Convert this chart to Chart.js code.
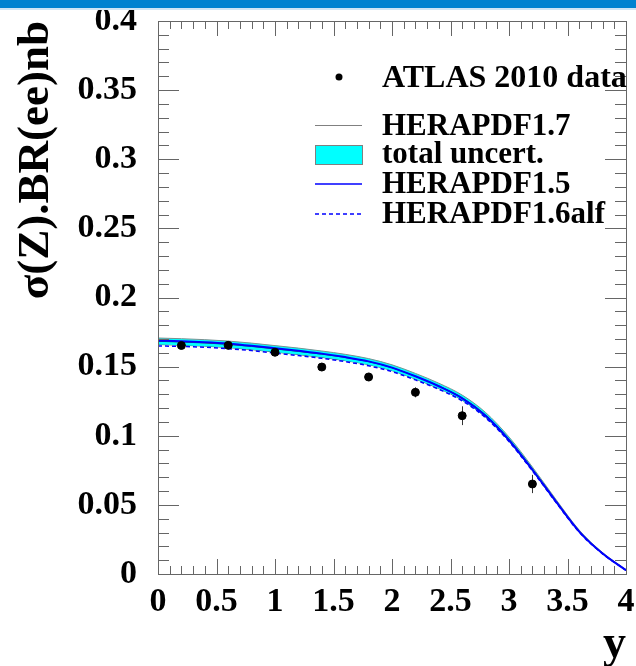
<!DOCTYPE html>
<html>
<head>
<meta charset="utf-8">
<script src="https://cdn.jsdelivr.net/npm/chart.js@4.4.0/dist/chart.umd.min.js"></script>
<style>
  html, body { margin: 0; padding: 0; background: #fff; }
  #wrap { position: relative; width: 636px; height: 666px; }
  .strip { position: absolute; left: 0; top: 0; width: 636px; height: 8px; background: #0082d0; border-bottom: 2px solid #cfe5f5; }
  canvas { position: absolute; left: 0; top: 0; }
</style>
</head>
<body>
<div id="wrap">
  <canvas id="zChart" width="636" height="666"></canvas>
  <div class="strip"></div>
</div>
<script>
// rapidity grid for the theory curves
const rapidity = [0, 0.2, 0.4, 0.6, 0.8, 1.0, 1.2, 1.4, 1.6, 1.8, 2.0, 2.2, 2.4, 2.6, 2.8, 3.0, 3.2, 3.4, 3.6, 3.8, 4.0];

// HERAPDF1.7 central value and total uncertainty band
const hera17 = [0.1683, 0.1678, 0.1671, 0.1661, 0.1646, 0.1628, 0.1610, 0.1590, 0.1566, 0.1536, 0.1492, 0.1430, 0.1360, 0.1275, 0.1150, 0.0975, 0.0760, 0.0530, 0.0310, 0.0150, 0.0028];
const hera17Up = [0.1707, 0.1702, 0.1695, 0.1685, 0.1670, 0.1652, 0.1634, 0.1613, 0.1589, 0.1558, 0.1513, 0.1451, 0.1380, 0.1294, 0.1168, 0.0991, 0.0774, 0.0541, 0.0318, 0.0155, 0.0032];
const hera17Down = [0.1660, 0.1655, 0.1648, 0.1638, 0.1623, 0.1605, 0.1587, 0.1567, 0.1543, 0.1514, 0.1471, 0.1410, 0.1341, 0.1257, 0.1133, 0.0960, 0.0747, 0.0520, 0.0303, 0.0146, 0.0026];

// other fits
const hera15 = [0.1688, 0.1683, 0.1676, 0.1666, 0.1651, 0.1633, 0.1614, 0.1594, 0.1569, 0.1538, 0.1493, 0.1430, 0.1358, 0.1271, 0.1145, 0.0969, 0.0754, 0.0526, 0.0307, 0.0148, 0.0027];
const hera16alf = [0.1650, 0.1646, 0.1640, 0.1630, 0.1616, 0.1598, 0.1580, 0.1560, 0.1536, 0.1506, 0.1464, 0.1404, 0.1336, 0.1253, 0.1130, 0.0958, 0.0746, 0.0520, 0.0303, 0.0146, 0.0027];

// ATLAS 2010 Z->ee measurement
const atlasY = [0.2, 0.6, 1.0, 1.4, 1.8, 2.2, 2.6, 3.2];
const atlasXsec = [0.1653, 0.1654, 0.1604, 0.1497, 0.1425, 0.1314, 0.1145, 0.0651];
const atlasErr = [0.0025, 0.0025, 0.0025, 0.0028, 0.0030, 0.0036, 0.0068, 0.0066];

const serif = 'Liberation Serif';

function curve(values) {
    return rapidity.map((y, i) => ({ x: y, y: values[i] }));
}

// 0.40 -> 0.4, 4.0 -> 4
function trimLabel(v) {
    return String(Number(v.toFixed(2)));
}

// ROOT style frame with inward ticks on all four sides
const rootFrame = {
    id: 'rootFrame',
    afterDraw(chart) {
        const { ctx, chartArea: a, scales: { x, y } } = chart;
        ctx.save();
        ctx.strokeStyle = '#666';
        ctx.lineWidth = 1;
        ctx.beginPath();
        for (let i = 0; i <= 40; i++) {
            const px = Math.round(x.getPixelForValue(i / 10)) + 0.5;
            const len = i % 5 === 0 ? 15 : 8;
            ctx.moveTo(px, a.bottom); ctx.lineTo(px, a.bottom - len);
            ctx.moveTo(px, a.top); ctx.lineTo(px, a.top + len);
        }
        for (let i = 0; i <= 40; i++) {
            const py = Math.round(y.getPixelForValue(i / 100)) + 0.5;
            const len = i % 5 === 0 ? 21 : 11;
            ctx.moveTo(a.left, py); ctx.lineTo(a.left + len, py);
            ctx.moveTo(a.right, py); ctx.lineTo(a.right - len, py);
        }
        ctx.stroke();
        ctx.strokeRect(Math.round(a.left) + 0.5, Math.round(a.top) + 0.5, Math.round(a.right - a.left), Math.round(a.bottom - a.top));
        ctx.restore();
    }
};

// vertical error bars for the data points (dataset 0)
const errorBars = {
    id: 'errorBars',
    beforeDatasetDraw(chart, args) {
        if (args.index !== 0) return;
        const { ctx, scales: { x, y } } = chart;
        ctx.save();
        ctx.strokeStyle = '#333';
        ctx.lineWidth = 1;
        ctx.beginPath();
        atlasY.forEach((v, i) => {
            const px = Math.round(x.getPixelForValue(v)) + 0.5;
            ctx.moveTo(px, y.getPixelForValue(atlasXsec[i] + atlasErr[i]));
            ctx.lineTo(px, y.getPixelForValue(atlasXsec[i] - atlasErr[i]));
        });
        ctx.stroke();
        ctx.restore();
    }
};

// legend without frame, drawn inside the plot
const legendBox = {
    id: 'legendBox',
    afterDraw(chart) {
        const ctx = chart.ctx;
        ctx.save();
        ctx.font = 'bold 31px ' + serif;
        ctx.fillStyle = '#000';
        ctx.textBaseline = 'alphabetic';
        ctx.textAlign = 'left';
        const tx = 382;

        ctx.beginPath();
        ctx.arc(339, 77, 3.5, 0, Math.PI * 2);
        ctx.fill();
        ctx.font = 'bold 32px ' + serif;
        ctx.fillText('ATLAS 2010 data', tx, 87);
        ctx.font = 'bold 31px ' + serif;

        ctx.strokeStyle = '#808080';
        ctx.lineWidth = 1;
        ctx.beginPath();
        ctx.moveTo(315, 125.5); ctx.lineTo(362, 125.5);
        ctx.stroke();
        ctx.fillText('HERAPDF1.7', tx, 135);

        ctx.fillStyle = '#00ffff';
        ctx.fillRect(315, 145, 48, 20);
        ctx.strokeStyle = '#808080';
        ctx.strokeRect(315.5, 145.5, 47, 19);
        ctx.fillStyle = '#000';
        ctx.fillText('total uncert.', tx, 163);

        ctx.strokeStyle = '#0000ff';
        ctx.lineWidth = 1.5;
        ctx.beginPath();
        ctx.moveTo(315, 184); ctx.lineTo(362, 184);
        ctx.stroke();
        ctx.fillText('HERAPDF1.5', tx, 193);

        ctx.setLineDash([4, 3]);
        ctx.beginPath();
        ctx.moveTo(315, 214); ctx.lineTo(362, 214);
        ctx.stroke();
        ctx.setLineDash([]);
        ctx.fillText('HERAPDF1.6alf', tx, 223);
        ctx.restore();
    }
};

const lineStyle = { showLine: true, pointRadius: 0, cubicInterpolationMode: 'monotone', fill: false };

new Chart(document.getElementById('zChart').getContext('2d'), {
    type: 'scatter',
    data: {
        datasets: [{
            label: 'ATLAS 2010 data',
            data: atlasY.map((v, i) => ({ x: v, y: atlasXsec[i] })),
            pointRadius: 4,
            pointBackgroundColor: '#000',
            pointBorderColor: '#000',
            showLine: false
        }, {
            ...lineStyle,
            label: 'HERAPDF1.6alf',
            data: curve(hera16alf),
            borderColor: '#0000ff',
            borderWidth: 1.5,
            borderDash: [4, 3]
        }, {
            ...lineStyle,
            label: 'HERAPDF1.5',
            data: curve(hera15),
            borderColor: '#0000ff',
            borderWidth: 2
        }, {
            ...lineStyle,
            label: 'HERAPDF1.7',
            data: curve(hera17),
            borderColor: '#304848',
            borderWidth: 1
        }, {
            ...lineStyle,
            label: 'total uncert.',
            data: curve(hera17Up),
            borderColor: '#7a9090',
            borderWidth: 1,
            backgroundColor: '#00ffff',
            fill: '+1'
        }, {
            ...lineStyle,
            label: 'lower',
            data: curve(hera17Down),
            borderColor: '#4a7070',
            borderWidth: 1
        }]
    },
    options: {
        responsive: false,
        animation: false,
        layout: { padding: { top: 21, right: 10, left: 0, bottom: 0 } },
        plugins: {
            legend: { display: false },
            tooltip: { enabled: false }
        },
        scales: {
            x: {
                type: 'linear',
                min: 0,
                max: 4,
                grid: { display: false, drawTicks: false },
                border: { display: false },
                ticks: {
                    stepSize: 0.5,
                    autoSkip: false,
                    maxRotation: 0,
                    padding: 8,
                    color: '#000',
                    font: { family: serif, size: 34, weight: 'bold' },
                    callback: trimLabel
                },
                title: {
                    display: true,
                    text: 'y',
                    align: 'end',
                    color: '#000',
                    padding: { top: 0, bottom: -2 },
                    font: { family: serif, size: 46, weight: 'bold', lineHeight: 1 }
                },
                afterFit(scale) {
                    scale.height = 92;
                    scale.paddingLeft = 0;
                    scale.paddingRight = 0;
                }
            },
            y: {
                type: 'linear',
                min: 0,
                max: 0.4,
                grid: { display: false, drawTicks: false },
                border: { display: false },
                ticks: {
                    stepSize: 0.05,
                    autoSkip: false,
                    padding: 21,
                    color: '#000',
                    font: { family: serif, size: 34, weight: 'bold' },
                    callback: trimLabel
                },
                title: {
                    display: true,
                    text: 'σ(Z).BR(ee)nb',
                    align: 'end',
                    color: '#000',
                    padding: { top: 9, bottom: 0 },
                    font: { family: serif, size: 45, weight: 'bold' }
                },
                afterFit(scale) {
                    scale.width = 158;
                    scale.paddingTop = 0;
                    scale.paddingBottom = 0;
                }
            }
        }
    },
    plugins: [rootFrame, errorBars, legendBox]
});
</script>
</body>
</html>
